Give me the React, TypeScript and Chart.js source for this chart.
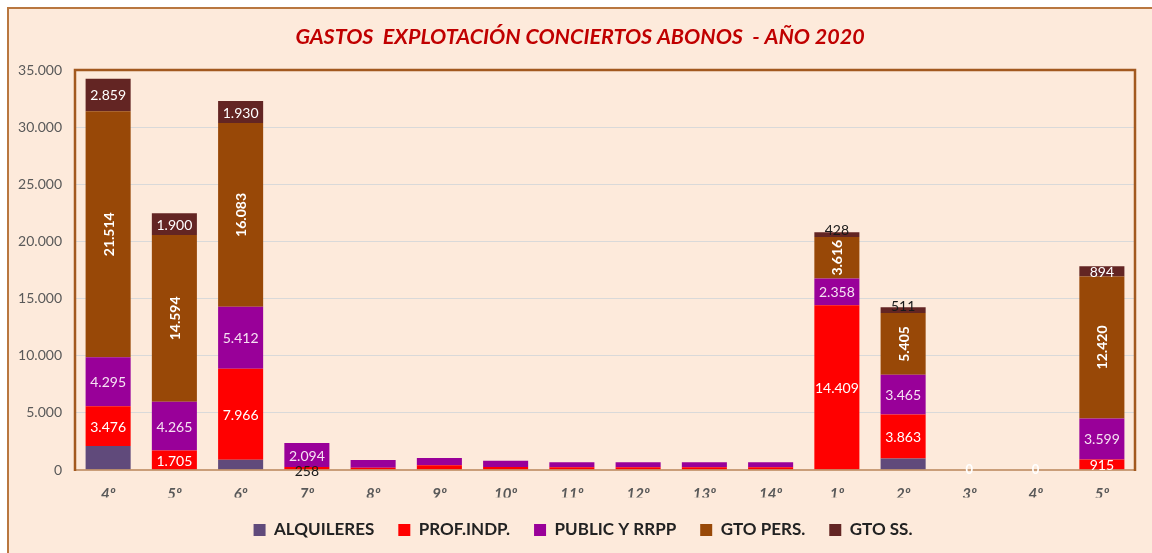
import React, { useEffect, useRef } from "react";
import { Chart, registerables } from "chart.js";

Chart.register(...registerables);

const TITLE = "GASTOS  EXPLOTACIÓN CONCIERTOS ABONOS  - AÑO 2020";
const CATEGORIES = ["4º", "5º", "6º", "7º", "8º", "9º", "10º", "11º", "12º", "13º", "14º", "1º", "2º", "3º", "4º", "5º"];
const ALQUILERES = [2100, 0, 900, 0, 0, 40, 0, 0, 0, 0, 0, 0, 1000, 0, 0, 0];
const PROF_INDP = [3476, 1705, 7966, 258, 200, 380, 260, 230, 230, 230, 230, 14409, 3863, 0, 0, 915];
const PUBLIC_RRPP = [4295, 4265, 5412, 2094, 670, 640, 555, 440, 440, 440, 440, 2358, 3465, 0, 0, 3599];
const GTO_PERS = [21514, 14594, 16083, 0, 0, 0, 0, 0, 0, 0, 0, 3616, 5405, 0, 0, 12420];
const GTO_SS = [2859, 1900, 1930, 0, 0, 0, 0, 0, 0, 0, 0, 428, 511, 0, 0, 894];
const Y_TICKS = [0, 5000, 10000, 15000, 20000, 25000, 30000, 35000];
// categories whose segments carry value labels
const LABELLED = [0, 1, 2, 3, 11, 12, 13, 14, 15];

const fmt = (n: number) => String(Math.round(n)).replace(/\B(?=(\d{3})+(?!\d))/g, ".");

const titlePlugin = {
  id: "titleText",
  afterDraw(chart: any) {
    const { ctx } = chart;
    ctx.save();
    ctx.font = "italic bold 21.5px Lato";
    ctx.fillStyle = "#C00000";
    ctx.textAlign = "center";
    ctx.textBaseline = "middle";
    ctx.fillText(TITLE, 580, 37);
    ctx.restore();
  },
};

const legendShift = {
  id: "legendShift",
  afterLayout(chart: any) {
    if (chart.legend) {
      chart.legend.left += 15.5;
      chart.legend.right += 15.5;
    }
  },
};

const framePlugin = {
  id: "frame",
  afterDatasetsDraw(chart: any) {
    const { ctx, chartArea: a } = chart;
    ctx.save();
    ctx.strokeStyle = "#B98558";
    ctx.lineWidth = 1.5;
    ctx.beginPath();
    ctx.moveTo(a.left, a.bottom);
    ctx.lineTo(a.right, a.bottom);
    ctx.stroke();
    ctx.strokeStyle = "#A2591F";
    ctx.lineWidth = 2.5;
    ctx.beginPath();
    ctx.moveTo(a.left, a.bottom + 1);
    ctx.lineTo(a.left, a.top);
    ctx.lineTo(a.right, a.top);
    ctx.lineTo(a.right, a.bottom + 1);
    ctx.stroke();
    ctx.restore();
  },
};

const labelPlugin = {
  id: "segLabels",
  afterDatasetsDraw(chart: any) {
    const { ctx } = chart;
    ctx.save();
    ctx.textAlign = "center";
    ctx.textBaseline = "middle";
    chart.data.datasets.forEach((ds: any, di: number) => {
      if (di === 0) return;
      const meta = chart.getDatasetMeta(di);
      meta.data.forEach((el: any, i: number) => {
        if (!LABELLED.includes(i)) return;
        const v = ds.data[i];
        if (!v) return;
        const cy = (el.y + el.base) / 2;
        const text = fmt(v);
        if (di === 3) {
          ctx.save();
          ctx.translate(el.x, cy);
          ctx.rotate(-Math.PI / 2);
          ctx.font = "bold 14px Lato";
          ctx.fillStyle = "#FFFFFF";
          ctx.fillText(text, 0, 1);
          ctx.restore();
          return;
        }
        ctx.font = "14px Lato";
        if (v < 600) {
          ctx.fillStyle = "#1A1A1A";
          ctx.fillText(text, el.x, di === 4 ? cy - 4 : cy + 3);
        } else {
          ctx.fillStyle = di === 2 ? "#F6E2F3" : "#FFFFFF";
          ctx.fillText(text, el.x, cy + 1);
        }
      });
    });
    // zero totals
    const meta0 = chart.getDatasetMeta(chart.data.datasets.length - 1);
    meta0.data.forEach((el: any, i: number) => {
      if (!LABELLED.includes(i)) return;
      const total = chart.data.datasets.reduce((s: number, d: any) => s + (d.data[i] || 0), 0);
      if (total === 0) {
        ctx.font = "bold 13px Lato";
        ctx.fillStyle = "#FFFFFF";
        ctx.fillText("0", el.x, el.base);
      }
    });
    ctx.restore();
  },
};

export default function App() {
  const ref = useRef<HTMLCanvasElement>(null);
  useEffect(() => {
    if (!ref.current) return;
    const chart = new Chart(ref.current, {
      type: "bar",
      data: {
        labels: CATEGORIES,
        datasets: [
          { label: "ALQUILERES", data: ALQUILERES, backgroundColor: "#604A7B" },
          { label: "PROF.INDP.", data: PROF_INDP, backgroundColor: "#FF0000" },
          { label: "PUBLIC Y RRPP", data: PUBLIC_RRPP, backgroundColor: "#990099" },
          { label: "GTO PERS.", data: GTO_PERS, backgroundColor: "#984807" },
          { label: "GTO SS.", data: GTO_SS, backgroundColor: "#632523" },
        ],
      },
      options: {
        responsive: false,
        animation: false,
        layout: { padding: { left: 0, right: 17, top: 70, bottom: 4.5 } },
        datasets: { bar: { barPercentage: 0.68, categoryPercentage: 1, borderWidth: 0 } },
        scales: {
          x: {
            stacked: true,
            grid: { display: false, drawTicks: false },
            border: { display: false },
            afterFit: (s: any) => { s.height = 27.5; },
            ticks: { color: "#595959", font: { family: "Lato", size: 15, weight: "bold", style: "italic" }, padding: 15 },
          },
          y: {
            stacked: true,
            min: 0,
            max: 35000,
            afterFit: (s: any) => { s.width = 75; },
            afterBuildTicks: (s: any) => { s.ticks = Y_TICKS.map((v) => ({ value: v })); },
            grid: {
              color: (c: any) => (c.tick && c.tick.value === 0 ? "rgba(0,0,0,0)" : "#D9D9D9"),
              lineWidth: 1,
              drawTicks: false,
            },
            border: { display: false },
            ticks: { color: "#595959", font: { family: "Lato", size: 14 }, padding: 13, callback: (v: any) => fmt(Number(v)) },
          },
        },
        plugins: {
          title: { display: false },
          legend: {
            position: "bottom",
            labels: {
              boxWidth: 12,
              boxHeight: 12,
              padding: 24,
              color: "#222222",
              font: { family: "Lato", size: 17, weight: "bold" },
            },
          },
          tooltip: { enabled: false },
        },
      },
      plugins: [legendShift, framePlugin, labelPlugin, titlePlugin],
    } as any);
    return () => chart.destroy();
  }, []);
  return (
    <div style={{ position: "fixed", left: 0, top: 0, width: 1152, height: 553, background: "#FFFFFF", overflow: "hidden" }}>
      <div style={{ position: "absolute", left: 7, top: 7, width: 1200, height: 600, background: "#FDEADB", borderLeft: "2px solid #B9773F", borderTop: "2px solid #B9773F" }} />
      <canvas ref={ref} width={1152} height={553} style={{ position: "absolute", left: 0, top: 0, display: "block" }} />
    </div>
  );
}
